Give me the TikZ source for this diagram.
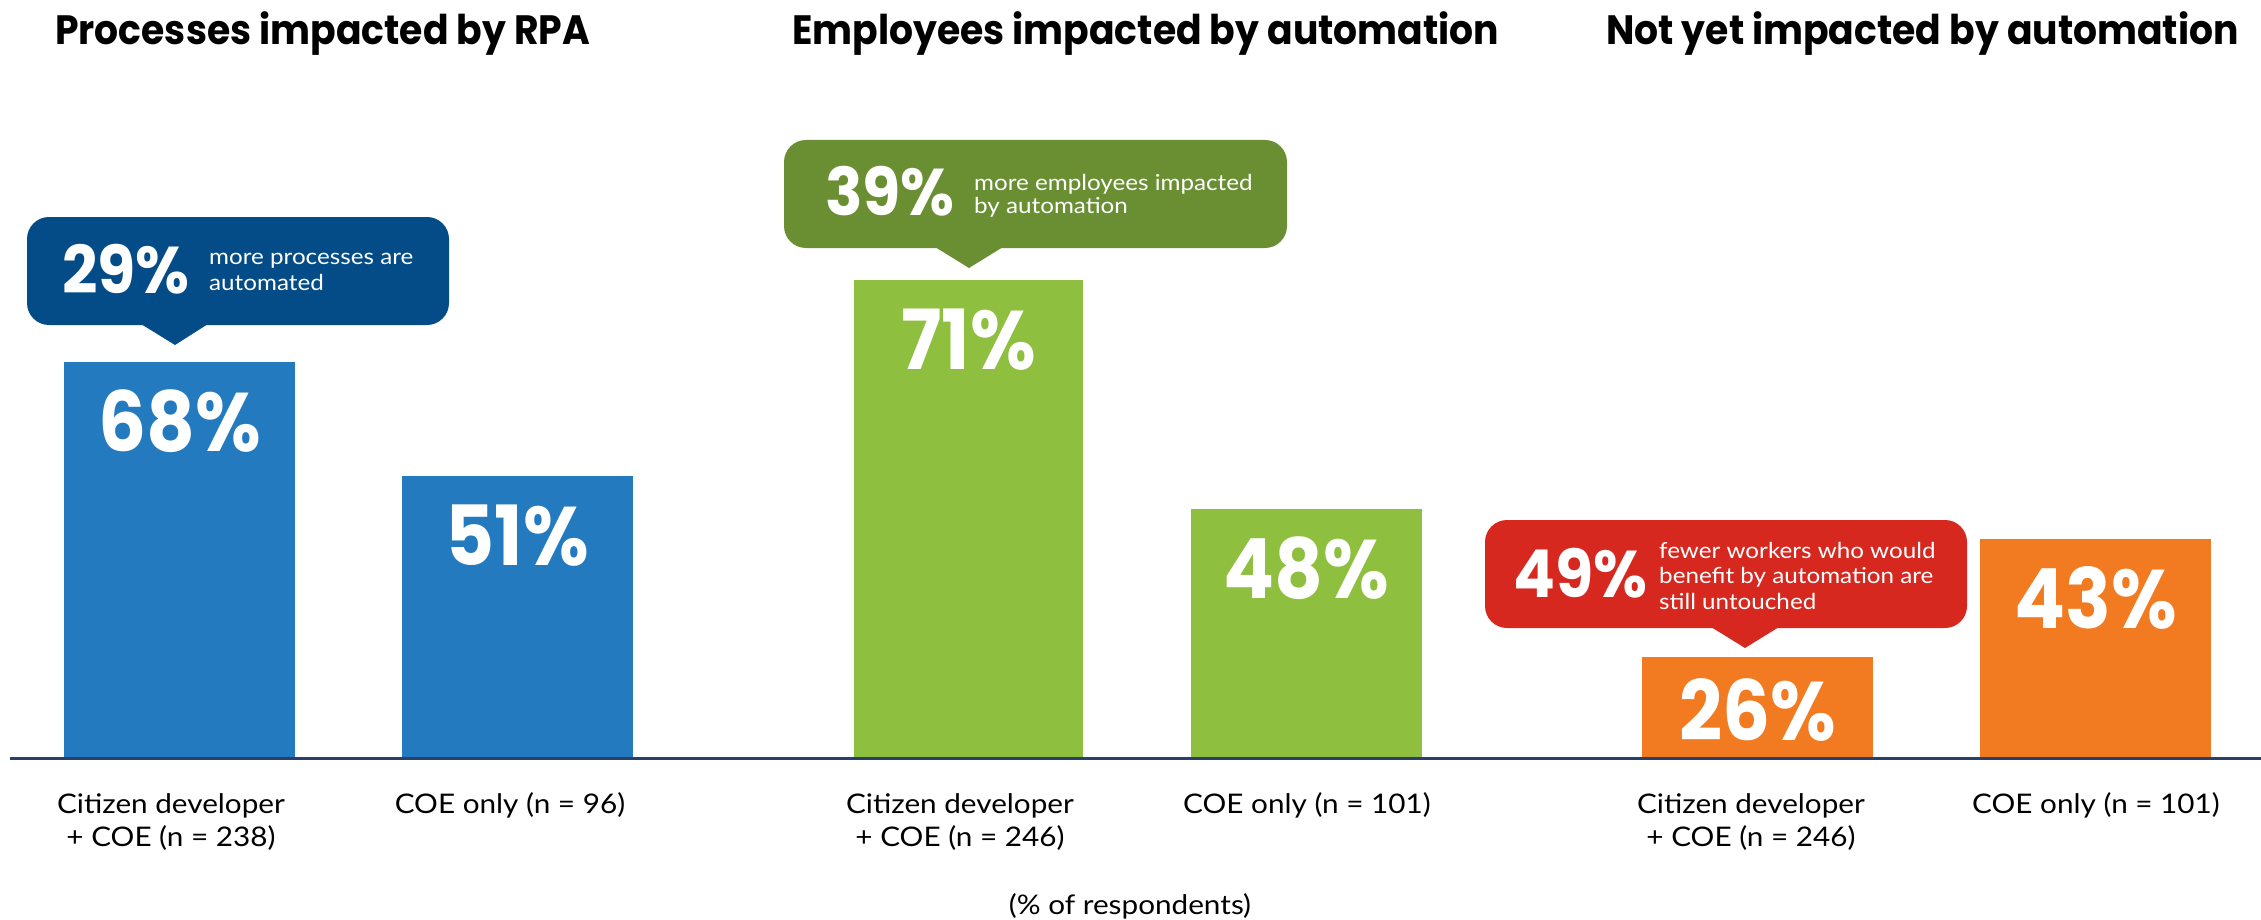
\documentclass[tikz,border=0pt]{standalone}
\usepackage{fontspec}
\setmainfont{Lato}
\newfontfamily\popT[FakeStretch=0.92]{Poppins}
\newfontfamily\popN[FakeStretch=0.91]{Poppins}
\newfontfamily\popB[FakeStretch=0.94]{Poppins}
\newfontfamily\lab[FakeStretch=1.1]{Lato}
\definecolor{barblue}{HTML}{237ABE}
\definecolor{bubnavy}{HTML}{034C87}
\definecolor{bargreen}{HTML}{8FBF3F}
\definecolor{bubolive}{HTML}{6A8F33}
\definecolor{barorange}{HTML}{F27B22}
\definecolor{bubred}{HTML}{D72820}
\definecolor{axisline}{HTML}{2B3F6B}
\tikzset{
  ttl/.style={anchor=base west, inner sep=0, font=\popT\bfseries\fontsize{41}{41}\selectfont},
  bignum/.style={anchor=base, inner sep=0, text=white, font=\popN\bfseries\fontsize{83}{83}\selectfont},
  bubnum/.style={anchor=base west, inner sep=0, text=white, font=\popB\bfseries\fontsize{66}{66}\selectfont},
  bubtxt/.style={anchor=west, inner sep=0, text=white, align=left},
  lbl/.style={anchor=base, inner sep=0, font=\lab\fontsize{27}{27}\selectfont},
  bubble/.style={rounded corners=22pt},
}
\begin{document}
\begin{tikzpicture}[x=1pt,y=-1pt]
\useasboundingbox (0,0) rectangle (2261,920);
% titles
\node[ttl] (t1) at (55,45) {Processes impacted by RPA};
\node[ttl] (t2) at (792,45) {Employees impacted by automation};
\node[ttl] (t3) at (1606,45) {Not yet impacted by automation};
% bars
\fill[barblue] (64,362) rectangle (295,758);
\fill[barblue] (402,476) rectangle (633,758);
\fill[bargreen] (854,280) rectangle (1083,758);
\fill[bargreen] (1191,509) rectangle (1422,758);
\fill[barorange] (1642,657) rectangle (1873,758);
\fill[barorange] (1980,539) rectangle (2211,758);
% axis
\draw[axisline, line width=3pt] (10,758) -- (2261,758);
% bar numbers
\node[bignum] (n1) at (179.5,451) {68\%};
\node[bignum] (n2) at (517.5,565) {51\%};
\node[bignum] (n3) at (968.5,369) {71\%};
\node[bignum] (n4) at (1306.5,598) {48\%};
\node[bignum] (n5) at (1757.5,740) {26\%};
\node[bignum] (n6) at (2095.5,628) {43\%};
% bubble 1
\fill[bubnavy, bubble] (27,217) rectangle (449,325);
\fill[bubnavy] (141,324) -- (175,345) -- (208,324) -- cycle;
\node[bubnum] (b1n) at (62,293) {29\%};
\node[bubtxt, font=\lab\fontsize{22}{26}\selectfont] (b1t) at (209,272.4) {more processes are\\automated};
% bubble 2
\fill[bubolive, bubble] (784,140) rectangle (1287,248);
\fill[bubolive] (935,247) -- (969,268) -- (1003,247) -- cycle;
\node[bubnum] (b2n) at (825,215) {39\%};
\node[bubtxt, font=\lab\fontsize{22}{23}\selectfont] (b2t) at (974,195.8) {more employees impacted\\by automation};
% bubble 3
\fill[bubred, bubble] (1485,520) rectangle (1967,628);
\fill[bubred] (1711,627) -- (1745,648) -- (1779,627) -- cycle;
\node[bubnum] (b3n) at (1513,597) {49\%};
\node[bubtxt, font=\lab\fontsize{22}{25.5}\selectfont] (b3t) at (1659,575.5) {fewer workers who would\\benefit by automation are\\still untouched};
% category labels
\node[lbl] (l1a) at (171,813) {Citizen developer};
\node[lbl] (l1b) at (171,846) {+ COE (n = 238)};
\node[lbl] (l2) at (510,813) {COE only (n = 96)};
\node[lbl] (l3a) at (960,813) {Citizen developer};
\node[lbl] (l3b) at (960,846) {+ COE (n = 246)};
\node[lbl] (l4) at (1307,813) {COE only (n = 101)};
\node[lbl] (l5a) at (1751,813) {Citizen developer};
\node[lbl] (l5b) at (1751,846) {+ COE (n = 246)};
\node[lbl] (l6) at (2096,813) {COE only (n = 101)};
\node[lbl] (foot) at (1130,914) {(\% of respondents)};
\end{tikzpicture}
\end{document}
